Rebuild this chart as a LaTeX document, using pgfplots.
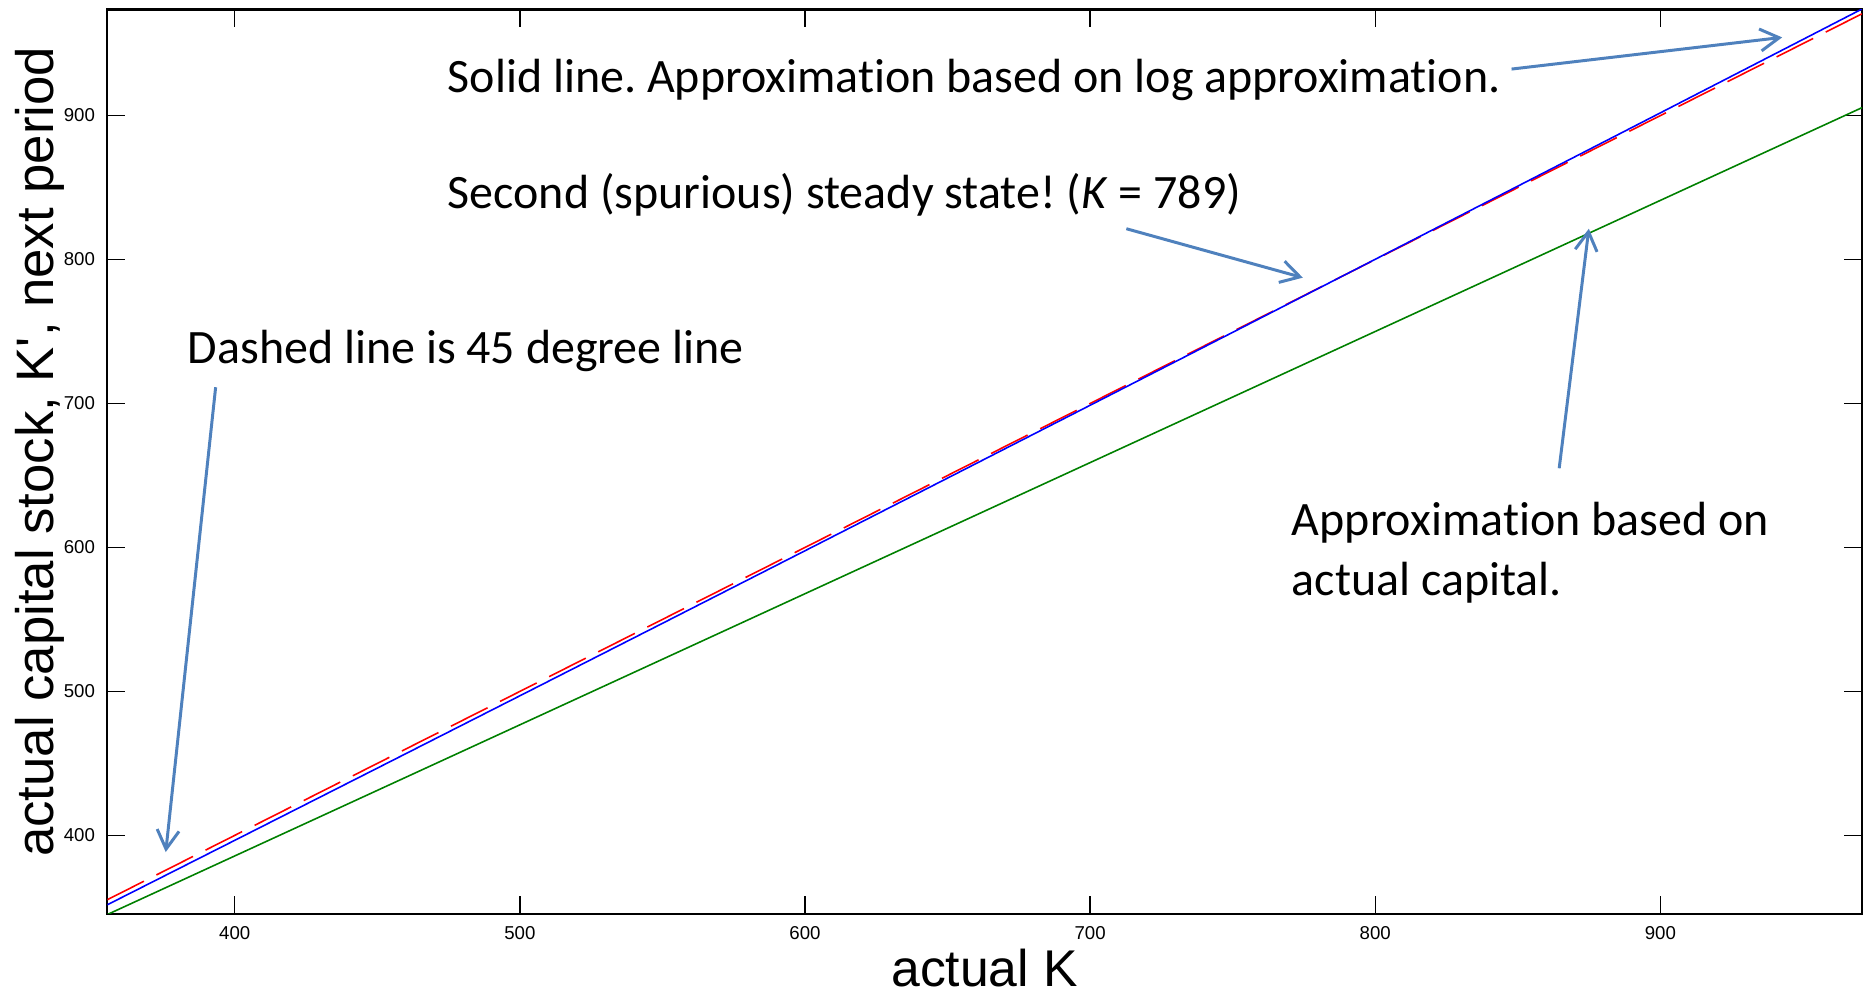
\documentclass[border=0pt]{standalone}
\usepackage{pgfplots}
\pgfplotsset{compat=1.18}
\usepackage{fontspec}
\setmainfont{Liberation Sans}
\newfontfamily\calfont[Ligatures=NoCommon]{Carlito}
\usetikzlibrary{arrows.meta}
\definecolor{arrowblue}{RGB}{79,129,189}
\definecolor{kred}{RGB}{255,0,0}
\definecolor{kblue}{RGB}{0,0,255}
\definecolor{kgreen}{RGB}{0,128,0}
\frenchspacing
\begin{document}
\begin{tikzpicture}
\begin{axis}[
  scale only axis, width=175.47mm, height=90.45mm,
  xmin=355.3, xmax=970.7, ymin=345.4, ymax=973.7,
  xtick={400,500,...,900}, ytick={400,500,...,900},
  tick align=inside, major tick length=1.8mm,
  tick style={line width=0.4pt, black},
  axis line style={line width=0.6pt},
  ticklabel style={font=\fontsize{5.3}{6}\selectfont},
  /pgf/number format/assume math mode=true,
  /pgf/number format/1000 sep={},
  xlabel={actual K}, ylabel={actual capital stock, K\textquotesingle, next period},
  xlabel style={font=\fontsize{14.7}{16}\selectfont, at={(axis description cs:0.5,-0.0807)}, anchor=base},
  ylabel style={font=\fontsize{15}{16}\selectfont, at={(axis description cs:-0.0308,0.511)}, anchor=base},
  clip=true,
]
\coordinate (SW) at (rel axis cs:0,0);
% 45 degree line
\addplot[kred, line width=0.45pt, dash pattern=on 4.1mm off 1.4mm] coordinates {(355.3,355.3) (970.7,970.7)};
% log approximation
\addplot[kblue, line width=0.45pt] coordinates {
(355.3,351.77) (400,396.55) (450,446.71) (500,496.96) (550,547.29) (600,597.70)
(650,648.19) (700,698.77) (750,749.43) (800,800.17) (850,850.99) (900,901.90)
(950,952.89) (970.7,974.03)};
% approximation based on actual capital
\addplot[kgreen, line width=0.45pt] coordinates {(355.3,345.0) (970.7,905.5)};

\node[anchor=base west, inner sep=0, font=\calfont\fontsize{13.65}{17}\selectfont] at (axis cs:474.5,915.7) {Solid line. Approximation based on log approximation.};
\node[anchor=base west, inner sep=0, font=\calfont\fontsize{13.65}{17}\selectfont] at (axis cs:474.5,835.2) {Second (spurious) steady state! (\textit{K} = 789)};
\node[anchor=base west, inner sep=0, font=\calfont\fontsize{13.65}{17}\selectfont] at (axis cs:383.3,727.5) {Dashed line is 45 degree line};
\node[anchor=base west, inner sep=0, font=\calfont\fontsize{13.65}{17}\selectfont] at (axis cs:770.5,608.1) {Approximation based on};
\node[anchor=base west, inner sep=0, font=\calfont\fontsize{13.65}{17}\selectfont] at (axis cs:770.5,566.4) {actual capital.};

\draw[arrowblue, line width=0.85pt, -{Straight Barb[length=1.9mm,width=2.2mm]}] (axis cs:847.8,932.3) -- (axis cs:942.7,954.3);
\draw[arrowblue, line width=0.85pt, -{Straight Barb[length=1.9mm,width=2.2mm]}] (axis cs:712.7,821.4) -- (axis cs:774.6,787.4);
\draw[arrowblue, line width=0.85pt, -{Straight Barb[length=1.9mm,width=2.2mm]}] (axis cs:393.3,711.3) -- (axis cs:375.8,388.4);
\draw[arrowblue, line width=0.85pt, -{Straight Barb[length=1.9mm,width=2.2mm]}] (axis cs:864.5,655) -- (axis cs:874.9,821.4);
\end{axis}
\pgfresetboundingbox
\path[use as bounding box] ([xshift=-10.73mm,yshift=-8mm]SW) rectangle ++(186.9mm,99.4mm);
\end{tikzpicture}
\end{document}
